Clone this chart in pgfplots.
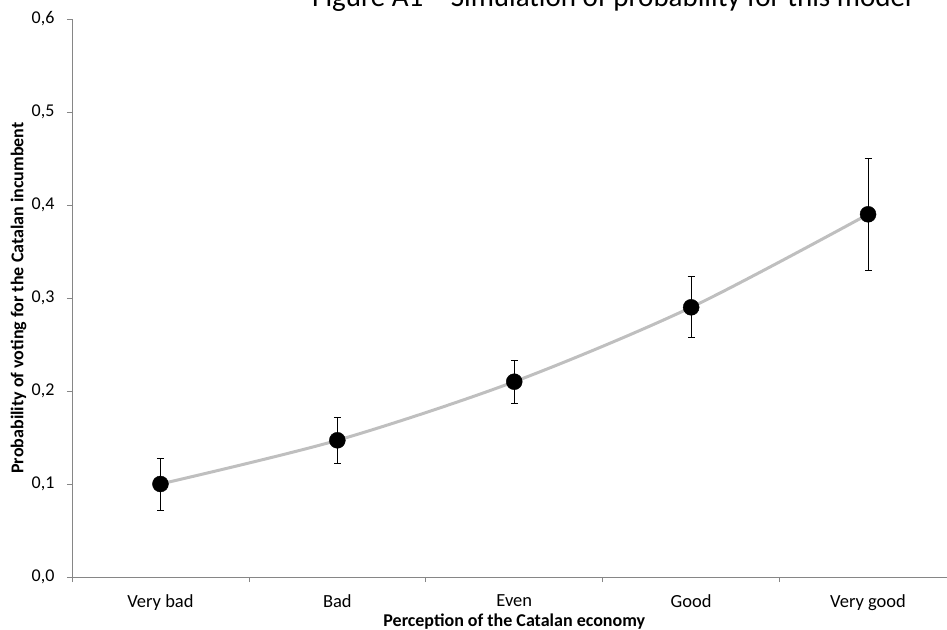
\documentclass[border=0pt]{standalone}
\usepackage{fontspec}
\setmainfont{Carlito}
\usepackage{pgfplots}
\pgfplotsset{compat=1.18}
\definecolor{axgray}{HTML}{868686}
\definecolor{linegray}{HTML}{BFBFBF}
\begin{document}
\begin{tikzpicture}[x=1pt,y=1pt]
\begin{axis}[
  at={(72pt,52pt)}, anchor=south west,
  scale only axis, width=884.5pt, height=558pt,
  xmin=-0.5, xmax=4.5, ymin=0, ymax=0.6,
  axis x line=bottom, axis y line=left,
  axis line style={-, draw=axgray, line width=1pt},
  tick align=outside,
  major tick length=5pt, minor tick length=5pt,
  ytick={0,0.1,0.2,0.3,0.4,0.5,0.6},
  ytick style={draw=axgray, line width=0.8pt},
  xtick={0,1,2,3,4},
  xticklabels={Very bad,Bad,Even,Good,Very good},
  major x tick style={draw=none},
  minor xtick={-0.5,0.5,1.5,2.5,3.5},
  minor x tick style={draw=axgray, line width=0.8pt},
  yticklabel style={font=\fontsize{18}{18}\selectfont, xshift=-9pt, /pgf/number format/.cd, fixed, fixed zerofill, precision=1, use comma, assume math mode=true},
  xticklabel style={font=\fontsize{18.5}{18.5}\selectfont, yshift=-9pt},
  xlabel={Perception of the Catalan economy},
  xlabel style={at={(axis description cs:0.5,-0.0806)}, anchor=center, font=\bfseries\fontsize{18}{18}\selectfont},
  ylabel={Probability of voting for the Catalan incumbent},
  ylabel style={at={(axis description cs:-0.0605,0.5)}, anchor=center, font=\bfseries\fontsize{18}{18}\selectfont},
  clip=false,
]
\addplot[linegray, line width=3pt, smooth] coordinates {(0,0.100) (1,0.147) (2,0.210) (3,0.290) (4,0.390)};
\addplot[only marks, mark=*, mark size=8pt, black,
  error bars/.cd, y dir=both, y explicit,
  error bar style={black, line width=1pt},
  error mark options={rotate=90, mark size=3.5pt, black, line width=0.9pt}]
  coordinates {
  (0,0.100) += (0,0.028) -= (0,0.028)
  (1,0.147) += (0,0.025) -= (0,0.025)
  (2,0.210) += (0,0.023) -= (0,0.023)
  (3,0.290) += (0,0.033) -= (0,0.032)
  (4,0.390) += (0,0.060) -= (0,0.060)
  };
\end{axis}
\node[anchor=base, font=\fontsize{29}{29}\selectfont, inner sep=0pt] at (612,622) {Figure A1 – Simulation of probability for this model};
\pgfresetboundingbox
\path[use as bounding box] (0,0) rectangle (947,629);
\end{tikzpicture}
\end{document}
